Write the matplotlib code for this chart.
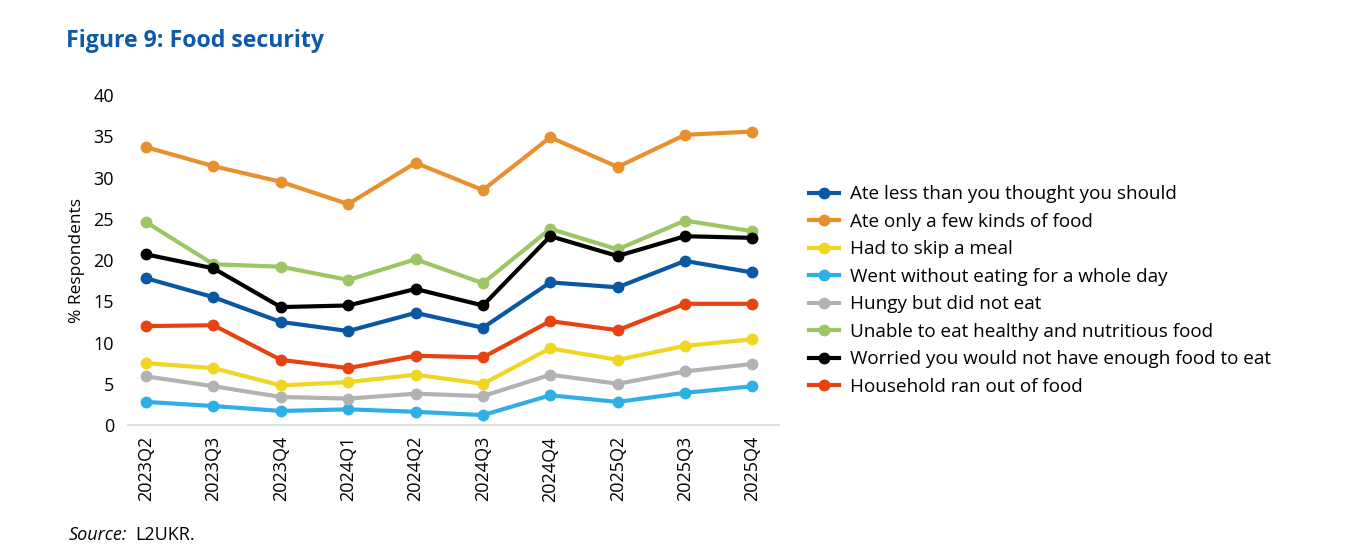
import matplotlib
matplotlib.use("Agg")
import matplotlib.pyplot as plt

plt.rcParams['font.family'] = ['Open Sans', 'DejaVu Sans']

# Datos
quarters = ['2023Q2', '2023Q3', '2023Q4', '2024Q1', '2024Q2',
            '2024Q3', '2024Q4', '2025Q2', '2025Q3', '2025Q4']

ate_less = [17.8, 15.5, 12.5, 11.4, 13.6, 11.8, 17.3, 16.7, 19.9, 18.5]
few_kinds = [33.7, 31.4, 29.5, 26.8, 31.8, 28.5, 34.9, 31.3, 35.2, 35.6]
skip_meal = [7.5, 6.9, 4.8, 5.2, 6.1, 5.0, 9.3, 7.9, 9.6, 10.4]
whole_day = [2.8, 2.3, 1.7, 1.9, 1.6, 1.2, 3.6, 2.8, 3.9, 4.7]
hungry = [5.9, 4.7, 3.4, 3.2, 3.8, 3.5, 6.1, 5.0, 6.5, 7.4]
unhealthy = [24.6, 19.5, 19.2, 17.6, 20.1, 17.2, 23.8, 21.3, 24.8, 23.5]
worried = [20.7, 19.0, 14.3, 14.5, 16.5, 14.5, 22.9, 20.5, 22.9, 22.7]
ran_out = [12.0, 12.1, 7.9, 6.9, 8.4, 8.2, 12.6, 11.5, 14.7, 14.7]

series = [
    ('Ate less than you thought you should', ate_less, '#0a57a4'),
    ('Ate only a few kinds of food', few_kinds, '#e8902e'),
    ('Had to skip a meal', skip_meal, '#f0d522'),
    ('Went without eating for a whole day', whole_day, '#2eb0e6'),
    ('Hungy but did not eat', hungry, '#b2b2b2'),
    ('Unable to eat healthy and nutritious food', unhealthy, '#9cc663'),
    ('Worried you would not have enough food to eat', worried, '#000000'),
    ('Household ran out of food', ran_out, '#e7420f'),
]

fig = plt.figure(figsize=(13.67, 5.57), dpi=100)
ax = fig.add_axes([0.0936, 0.237, 0.476, 0.592])

x = list(range(len(quarters)))
for label, vals, col in series:
    ax.plot(x, vals, color=col, lw=3, marker='o', ms=7.5, label=label,
            solid_joinstyle='round')

ax.set_xlim(-0.27, 9.39)
ax.set_ylim(0, 40)
ax.set_yticks(range(0, 41, 5))
ax.set_xticks(x)
ax.set_xticklabels(quarters, rotation=90, fontsize=13)
ax.tick_params(axis='y', labelsize=13, length=0, pad=10)
ax.tick_params(axis='x', length=0, pad=8)
for s in ['top', 'right', 'left']:
    ax.spines[s].set_visible(False)
ax.spines['bottom'].set_color('#d9d9d9')
ax.spines['bottom'].set_linewidth(1.2)
ax.set_ylabel('% Respondents', fontsize=12.5, labelpad=6)

fig.text(0.048, 0.927, 'Figure 9: Food security', fontsize=16.7, fontweight='bold',
         color='#0f5aa6', va='center')
fig.text(0.050, 0.04, 'Source:', fontsize=13, style='italic', va='center')
fig.text(0.0988, 0.04, 'L2UKR.', fontsize=13, va='center')

fig.legend(loc='upper left', bbox_to_anchor=(0.586, 0.681), frameon=False,
           fontsize=13.6, labelspacing=0.505, handlelength=1.6, handletextpad=0.6,
           borderaxespad=0)

plt.savefig('out.png', dpi=100)
